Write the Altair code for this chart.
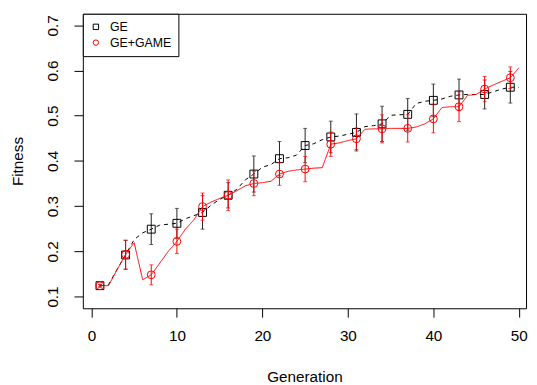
import altair as alt
import pandas as pd

# ---- data ----
generations = list(range(1, 51))
ge_mean = [0.124, 0.126, 0.160, 0.192, 0.226, 0.241, 0.249, 0.258, 0.260, 0.262,
           0.272, 0.279, 0.286, 0.302, 0.315, 0.324, 0.337, 0.358, 0.371, 0.386,
           0.392, 0.405, 0.407, 0.413, 0.434, 0.438, 0.447, 0.453, 0.455, 0.459,
           0.463, 0.476, 0.478, 0.482, 0.501, 0.502, 0.503, 0.527, 0.532, 0.534,
           0.537, 0.543, 0.546, 0.547, 0.547, 0.547, 0.553, 0.559, 0.563, 0.563]
game_mean = [0.124, 0.124, 0.159, 0.193, 0.219, 0.137, 0.148, 0.174, 0.200, 0.222,
             0.249, 0.270, 0.299, 0.309, 0.317, 0.324, 0.334, 0.345, 0.350, 0.352,
             0.355, 0.371, 0.377, 0.380, 0.382, 0.384, 0.385, 0.437, 0.440, 0.445,
             0.449, 0.470, 0.471, 0.471, 0.472, 0.472, 0.472, 0.475, 0.482, 0.493,
             0.518, 0.520, 0.520, 0.545, 0.547, 0.559, 0.568, 0.576, 0.584, 0.606]
marker_gens = list(range(1, 50, 3))
ge_err = [0.003, 0.032, 0.034, 0.033, 0.037, 0.028, 0.040, 0.038, 0.038,
          0.035, 0.041, 0.039, 0.035, 0.036, 0.035, 0.032, 0.035]
game_err = [0.003, 0.032, 0.022, 0.027, 0.030, 0.034, 0.027, 0.025, 0.028,
            0.027, 0.024, 0.031, 0.030, 0.031, 0.033, 0.028, 0.024]
series_names = ["GE", "GE+GAME"]
x_ticks = [0, 10, 20, 30, 40, 50]
y_ticks = [0.1, 0.2, 0.3, 0.4, 0.5, 0.6, 0.7]

FONT = "Liberation Sans"

line_df = pd.DataFrame({
    "gen": generations * 2,
    "value": ge_mean + game_mean,
    "series": [series_names[0]] * len(generations) + [series_names[1]] * len(generations),
})
mk_rows = []
for g, e in zip(marker_gens, ge_err):
    mk_rows.append({"gen": g, "value": ge_mean[g - 1], "err": e, "series": series_names[0]})
for g, e in zip(marker_gens, game_err):
    mk_rows.append({"gen": g, "value": game_mean[g - 1], "err": e, "series": series_names[1]})
mk_df = pd.DataFrame(mk_rows)

xscale = alt.Scale(domain=[-1.0, 50.84], nice=False, zero=False)
yscale = alt.Scale(domain=[0.074, 0.7255], nice=False, zero=False)

xaxis = alt.Axis(values=x_ticks, grid=False, domain=False, tickSize=9, tickColor="black",
                 labelFont=FONT, labelFontSize=15.5, labelColor="black", labelPadding=12,
                 labelFlush=False, labelOverlap=False,
                 titleFont=FONT, titleFontSize=15.5, titleFontWeight="normal", titleColor="black",
                 titleX=225, titleY=74, titleAlign="center", titleBaseline="alphabetic")
yaxis = alt.Axis(values=y_ticks, format=".1f", grid=False, domain=False, tickSize=9, tickColor="black",
                 labelFont=FONT, labelFontSize=15.5, labelColor="black", labelAngle=270,
                 labelAlign="center", labelBaseline="alphabetic", labelPadding=17,
                 labelFlush=False, labelOverlap=False,
                 titleFont=FONT, titleFontSize=15.5, titleFontWeight="normal", titleColor="black",
                 titleAngle=270, titleX=-61, titleY=149.5, titleAlign="center",
                 titleBaseline="alphabetic")

X = alt.X("gen:Q", scale=xscale, axis=xaxis, title="Generation")
Y = alt.Y("value:Q", scale=yscale, axis=yaxis, title="Fitness")
Ylo = alt.Y("lo:Q", scale=yscale, axis=yaxis, title="Fitness")
Yhi = alt.Y("hi:Q", scale=yscale, axis=yaxis, title="Fitness")

color_scale = alt.Scale(domain=series_names, range=["black", "red"])
shape_scale = alt.Scale(domain=series_names, range=["square", "circle"])
legend = alt.Legend(title=None, orient="none", legendX=0, legendY=0,
                    strokeColor="black", fillColor="white", padding=7,
                    symbolSize=30, symbolStrokeWidth=1, symbolOpacity=1,
                    labelFont=FONT, labelFontSize=12.5, labelColor="black",
                    labelOffset=8, rowPadding=3)


def layers_for(name, col, dash, bar_col):
    ln = alt.Chart(line_df).transform_filter(alt.datum.series == name).mark_line(
        color=col, strokeWidth=1, strokeDash=dash).encode(x=X, y=Y)
    mk = alt.Chart(mk_df).transform_filter(alt.datum.series == name).transform_calculate(
        lo="datum.value - datum.err", hi="datum.value + datum.err")
    bars = mk.mark_rule(color=bar_col, strokeWidth=1).encode(x=X, y=Ylo, y2="hi:Q")
    cap_lo = mk.mark_tick(color=bar_col, orient="horizontal", size=4, thickness=1).encode(x=X, y=Ylo)
    cap_hi = mk.mark_tick(color=bar_col, orient="horizontal", size=4, thickness=1).encode(x=X, y=Yhi)
    pts = mk.mark_point(filled=False, size=64, strokeWidth=1, opacity=1).encode(
        x=X, y=Y,
        color=alt.Color("series:N", scale=color_scale, legend=legend),
        shape=alt.Shape("series:N", scale=shape_scale, legend=legend))
    return [ln, bars, cap_lo, cap_hi, pts]


chart = alt.layer(
    *layers_for(series_names[0], "black", [4, 4], "#222222"),
    *layers_for(series_names[1], "red", [1, 0], "red"),
).properties(
    width=450, height=299,
    autosize=alt.AutoSizeParams(type="none"),
    padding={"left": 76, "top": 3, "right": 3, "bottom": 74},
    background="white",
).configure_view(stroke="black", strokeWidth=1)

chart.save("out.html", embed_options={"renderer": "svg", "actions": False})
